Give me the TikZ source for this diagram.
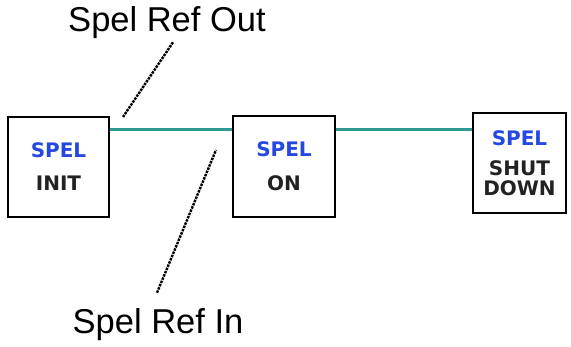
\documentclass[tikz,border=0pt]{standalone}
\usepackage{fontspec}
\setmainfont{Liberation Sans}
\newfontfamily\boxfont{DejaVu Sans}
\usetikzlibrary{calc}
\definecolor{spelblue}{HTML}{2448E0}
\definecolor{linkteal}{HTML}{2E9A92}
\definecolor{txtdark}{HTML}{222222}
\tikzset{
  statebox/.style={draw=black, line width=1.6pt, inner sep=0pt, font=\boxfont\bfseries\fontsize{20}{20}\selectfont, text=txtdark, align=center},
  link/.style={draw=linkteal, line width=3pt},
  leader/.style={draw=black, line width=2.4pt, dash pattern=on 2.5pt off 1pt},
  reflabel/.style={font=\fontsize{34.5}{36}\selectfont, text=black, inner sep=0pt}
}
\begin{document}
\begin{tikzpicture}[x=1pt,y=1pt]
\useasboundingbox (0,0) rectangle (571,-347);
\node[statebox, minimum width=101pt, minimum height=100pt] (init) at (58.5,-167) {{\color{spelblue}SPEL}\\[13pt]INIT};
\node[statebox, minimum width=102pt, minimum height=101pt] (on) at (284,-166.5) {{\color{spelblue}SPEL}\\[14pt]ON};
\node[statebox, minimum width=93pt, minimum height=100pt] (shut) at (519.5,-163) {{\color{spelblue}SPEL}\\[10pt]SHUT\\[0pt]DOWN};
\node[reflabel] (out) at (167,-23) {Spel Ref Out};
\node[reflabel] (in) at (158,-325) {Spel Ref In};
\draw[link] ($(init.north east)+(0,-13.5)$) coordinate (l1a) -- (l1a -| on.west);
\draw[link] ($(on.north east)+(0,-14.5)$) coordinate (l2a) -- (l2a -| shut.west);
\coordinate (outtip) at (123,-117);
\coordinate (intip) at (216,-150);
\draw[leader] ($(out.south)+(6,-3)$) -- (outtip);
\draw[leader] ($(in.north)+(-1,16)$) -- (intip);
\end{tikzpicture}
\end{document}
